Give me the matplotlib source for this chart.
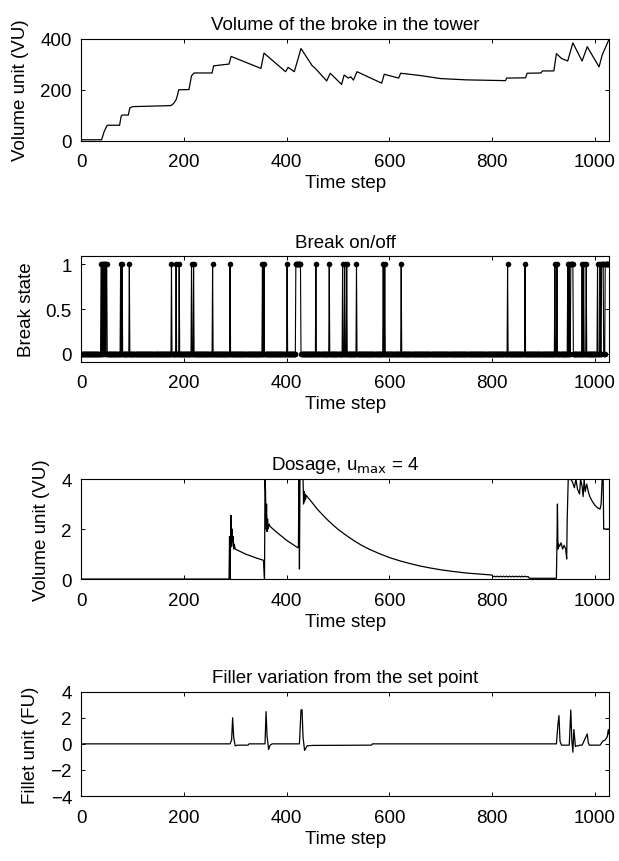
import numpy as np
import matplotlib
matplotlib.use('Agg')
import matplotlib.pyplot as plt

plt.rcParams['font.family'] = ['Liberation Sans', 'DejaVu Sans']
plt.rcParams['font.size'] = 13.5

# volume of broke in the tower (breakpoints)
vol_t = [0, 40, 45, 50, 52, 75, 78, 80, 92, 95, 100, 175, 178, 180, 185, 188, 190,
         210, 215, 220, 255, 258, 288, 292, 350, 356, 398, 403, 415, 428, 450, 455,
         478, 485, 507, 512, 520, 525, 530, 537, 585, 590, 618, 622, 660, 700, 750,
         800, 826, 828, 865, 868, 895, 898, 920, 925, 935, 947, 957, 975, 985, 1008,
         1014, 1028]
vol_v = [3, 3, 35, 57, 60, 60, 95, 100, 100, 128, 133, 137, 142, 145, 160, 180, 199,
         200, 254, 265, 265, 293, 300, 330, 283, 343, 270, 287, 270, 361, 293, 285,
         234, 264, 220, 257, 245, 250, 237, 270, 225, 260, 245, 264, 255, 243, 238,
         236, 235, 245, 246, 264, 265, 273, 273, 341, 322, 312, 383, 312, 368, 289,
         335, 400]

# break on intervals (time steps where the break state is 1)
break_on = [(39, 40), (42, 42), (44, 45), (47, 47), (49, 50), (77, 77), (80, 80),
            (94, 94), (176, 176), (185, 185), (191, 191), (215, 215), (219, 219),
            (256, 256), (290, 290), (353, 353), (356, 356), (401, 401), (418, 427),
            (457, 457), (483, 483), (509, 509), (513, 513), (517, 517), (536, 536),
            (588, 588), (591, 591), (623, 623), (830, 830), (864, 864), (922, 922),
            (926, 926), (947, 947), (950, 950), (953, 957), (975, 975), (978, 978),
            (983, 983), (1005, 1005), (1010, 1010), (1013, 1016), (1020, 1028)]
n_steps = 1029

# dosage
dose_t = [0, 288, 289, 290, 291, 292, 293, 294, 295, 296, 297, 298, 300, 305, 320,
          340, 355, 357, 358, 359, 360, 361, 362, 363, 364, 366, 368, 385, 400, 422,
          423, 424, 425, 426, 432, 433, 434, 435, 436, 437, 438, 440, 450, 460, 470,
          480, 490, 500, 515, 530, 545, 560, 580, 600, 620, 640, 660, 680, 700, 725,
          750, 775, 800, 801, 804, 807, 810, 813, 816, 819, 822, 825, 828, 831, 834,
          837, 840, 843, 846, 849, 852, 855, 858, 861, 864, 867, 870, 872, 925, 926,
          927, 928, 929, 931, 934, 937, 940, 943, 945, 946, 948, 950, 952, 956, 960,
          963, 966, 970, 972, 975, 977, 979, 981, 984, 987, 990, 995, 1000, 1005,
          1010, 1012, 1014, 1016, 1017, 1018, 1028]
dose_v = [0, 0, 1.7, 0, 1.6, 2.55, 1.3, 2.0, 1.5, 1.7, 1.2, 1.4, 1.2, 1.15, 1.0,
          0.85, 0.75, 0.0, 4.0, 3.5, 2.0, 3.0, 1.9, 2.4, 2.0, 2.2, 2.1, 1.8, 1.55, 1.25,
          1.3, 4.0, 0.4, 4.0, 4.0, 3.0, 3.5, 3.1, 3.4, 3.2, 3.35, 3.3, 3.05, 2.79, 2.57,
          2.36, 2.17, 1.99, 1.76, 1.55, 1.36, 1.2, 1.02, 0.86, 0.73, 0.62, 0.52, 0.44,
          0.37, 0.3, 0.24, 0.2, 0.16, 0.09, 0.115, 0.085, 0.115, 0.085, 0.115, 0.085,
          0.115, 0.085, 0.115, 0.085, 0.115, 0.085, 0.115, 0.085, 0.115, 0.085, 0.115,
          0.085, 0.115, 0.085, 0.115, 0.085, 0.1, 0.03, 0.03, 1.3, 3.0, 1.2, 1.4, 1.3,
          1.45, 1.2, 1.35, 1.2, 0.8, 2.4, 4.0, 4.0, 4.0, 3.9, 3.65, 4.0, 3.6, 3.4, 4.0,
          3.7, 3.3, 4.0, 3.5, 3.8, 3.5, 3.3, 3.1, 2.95, 2.85, 2.8, 3.0, 4.0, 4.0, 2.0,
          2.0, 2.0]

# filler variation from the set point
fill_t = [0, 290, 293, 295, 297, 300, 305, 325, 327, 358, 360, 362, 365, 368, 372,
          425, 428, 430, 432, 435, 440, 450, 565, 567, 925, 928, 930, 932, 935, 940,
          950, 953, 955, 957, 959, 962, 965, 967, 970, 975, 985, 987, 989, 992, 995,
          1010, 1015, 1020, 1024, 1026, 1028]
fill_v = [0, 0, 0.3, 2.0, 0.5, -0.15, -0.1, -0.1, 0, 0, 2.47, 0.6, -0.43, -0.1, 0,
          0, 2.6, 2.62, 0.5, -0.5, -0.15, -0.12, -0.1, 0, 0, 1.5, 2.17, 0.2, -0.1,
          -0.1, -0.1, 2.6, 0.3, -0.64, 1.1, -0.2, -0.15, -0.15, -0.1, -0.1, 0.76,
          0.1, -0.1, -0.1, -0.1, -0.1, 0.2, 0.3, 0.55, 1.1, 0.7]

axes_pos = [(0.1309, 0.8358, 0.8535, 0.1183),
            (0.1309, 0.5792, 0.8535, 0.1223),
            (0.1309, 0.3271, 0.8535, 0.1160),
            (0.1309, 0.0754, 0.8535, 0.1210)]


def style_axes(ax, title, ylabel):
    ax.tick_params(direction='in', length=3, width=0.7, top=True, right=True)
    ax.tick_params(axis='x', pad=9)
    ax.tick_params(axis='y', pad=6.5)
    for s in ax.spines.values():
        s.set_linewidth(0.8)
    ax.set_xlim(0, 1028)
    ax.set_xticks([0, 200, 400, 600, 800, 1000])
    ax.set_xlabel("Time step", labelpad=3)
    ax.set_ylabel(ylabel, labelpad=8)
    ax.set_title(title, fontsize=13.5, pad=7)


fig = plt.figure(figsize=(6.19, 8.62), dpi=100)

ax1 = fig.add_axes(axes_pos[0])
ax1.plot(vol_t, vol_v, color='k', lw=0.9)
ax1.set_ylim(0, 400)
ax1.set_yticks([0, 200, 400])
style_axes(ax1, "Volume of the broke in the tower", "Volume unit (VU)")

state = np.zeros(n_steps)
for a, b in break_on:
    state[a:b + 1] = 1
ax2 = fig.add_axes(axes_pos[1])
ax2.plot(np.arange(n_steps), state, color='k', lw=0.8, marker='o',
         markersize=4, markeredgewidth=0)
ax2.set_ylim(-0.09, 1.09)
ax2.set_yticks([0, 0.5, 1])
ax2.set_yticklabels(["0", "0.5", "1"])
style_axes(ax2, "Break on/off", "Break state")

ax3 = fig.add_axes(axes_pos[2])
ax3.plot(dose_t, dose_v, color='k', lw=0.9)
ax3.set_ylim(0, 4)
ax3.set_yticks([0, 2, 4])
style_axes(ax3, r"Dosage, u$_{\rm max}$ = 4", "Volume unit (VU)")

ax4 = fig.add_axes(axes_pos[3])
ax4.plot(fill_t, fill_v, color='k', lw=0.9)
ax4.set_ylim(-4, 4)
ax4.set_yticks([-4, -2, 0, 2, 4])
style_axes(ax4, "Filler variation from the set point", "Fillet unit (FU)")

fig.savefig("out.png", dpi=100)
